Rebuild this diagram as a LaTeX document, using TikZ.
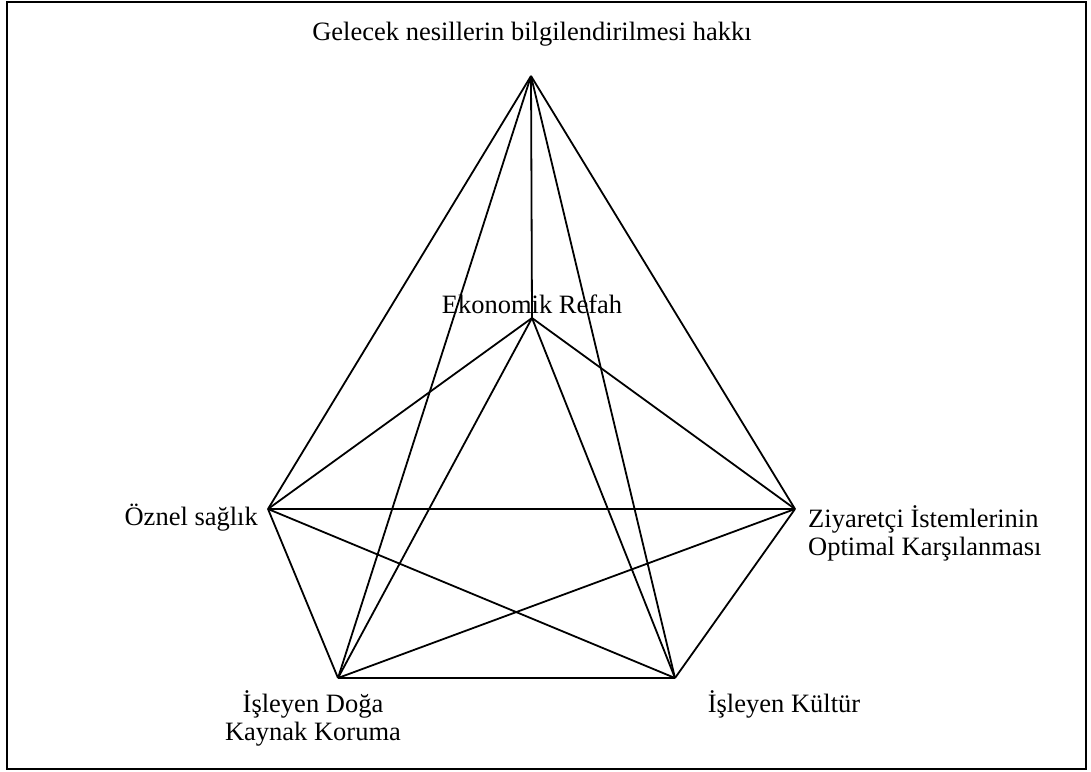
\documentclass[tikz,border=0pt]{standalone}
\usepackage{fontspec}
\setmainfont{Liberation Serif}
\begin{document}
\begin{tikzpicture}[x=1pt,y=-1pt,
  edge/.style={line width=1.8pt, line join=round},
  lbl/.style={inner sep=0pt, font=\fontsize{26.5}{28}\selectfont}]
\useasboundingbox (0,0) rectangle (1091,771);
\draw[line width=2pt] (7,1.5) rectangle (1086,768.5);
% vertices
\coordinate (T) at (531,76);
\coordinate (E) at (532,318);
\coordinate (L) at (268,509);
\coordinate (R) at (795,509);
\coordinate (BL) at (338,678);
\coordinate (BR) at (675,678);
% edges (complete graph)
\foreach \a/\b in {T/E,T/L,T/R,T/BL,T/BR,E/L,E/R,E/BL,E/BR,L/R,L/BL,L/BR,R/BL,R/BR,BL/BR}
  \draw[edge] (\a) -- (\b);
% labels
\node[lbl, anchor=base] (tT) at (532,40) {Gelecek nesillerin bilgilendirilmesi hakkı};
\node[lbl, anchor=base] (tE) at (532,313) {Ekonomik Refah};
\node[lbl, anchor=base east] (tL) at (258,525) {Öznel sağlık};
\node[lbl, anchor=base west, align=left] (tR) at (808,555) {Ziyaretçi İstemlerinin\\Optimal Karşılanması};
\node[lbl, anchor=base, align=center] (tBL) at (313,740) {İşleyen Doğa\\Kaynak Koruma};
\node[lbl, anchor=base] (tBR) at (784,712) {İşleyen Kültür};
\end{tikzpicture}
\end{document}
